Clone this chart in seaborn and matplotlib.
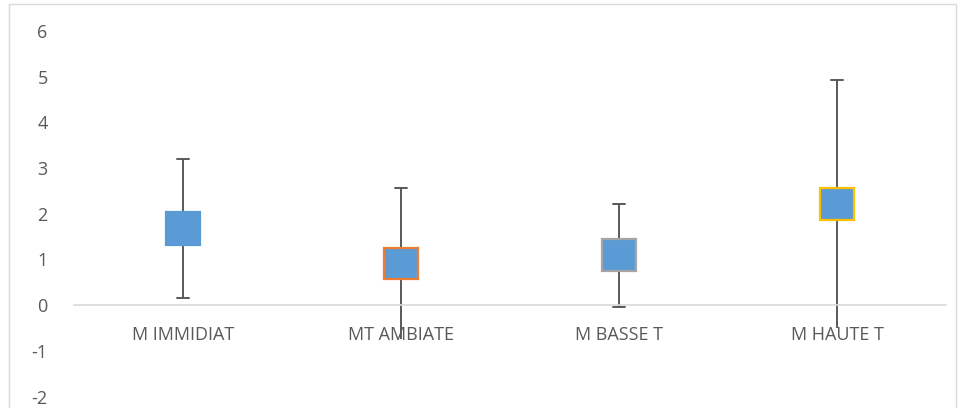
import matplotlib.pyplot as plt
import matplotlib.patches as mpatches
import seaborn as sns
import pandas as pd
import numpy as np

categories = ["M IMMIDIAT", "MT AMBIATE", "M BASSE T", "M HAUTE T"]
low = [0.15, -0.75, -0.04, -0.5]
q1 = [1.32, 0.57, 0.75, 1.86]
q3 = [2.04, 1.26, 1.45, 2.57]
high = [3.2, 2.57, 2.22, 4.93]
edge_colors = ["#5b9bd5", "#ed7d31", "#a5a5a5", "#ffc000"]
hidden_low_caps = [1, 3]

rows = {"cat": [], "value": []}
for i, c in enumerate(categories):
    for v in [low[i], q1[i], (q1[i] + q3[i]) / 2, q3[i], high[i]]:
        rows["cat"].append(c)
        rows["value"].append(v)
df = pd.DataFrame(rows)

sns.set_style("white")
plt.rcParams["font.family"] = ["Open Sans", "DejaVu Sans"]
plt.rcParams["axes.unicode_minus"] = False
text_color = "#595959"

fig = plt.figure(figsize=(9.58, 4.08), dpi=100)
ax = fig.add_axes([74 / 958, 11.5 / 408, 872 / 958, 365.5 / 408])

sns.boxplot(data=df, x="cat", y="value", order=categories, ax=ax,
            whis=(0, 100), width=0.152, color="#5b9bd5", linecolor="#595959",
            linewidth=1.4, showfliers=False, capwidths=0.055,
            medianprops={"visible": False})

for p, ec in zip(ax.patches, edge_colors):
    p.set_facecolor("#5b9bd5")
    p.set_edgecolor(ec)
    p.set_linewidth(1.6)
    p.set_zorder(3)

for ln in ax.lines:
    xd = np.asarray(ln.get_xdata(), dtype=float)
    yd = np.asarray(ln.get_ydata(), dtype=float)
    if len(yd) == 2 and yd[0] == yd[1] and xd[0] != xd[1]:
        idx = int(round(xd.mean()))
        if idx in hidden_low_caps and abs(yd[0] - low[idx]) < 1e-9:
            ln.set_visible(False)

ax.set_ylim(-2, 6)
ax.set_xlim(-0.5, 3.5)
ax.set_yticks(range(-2, 7))
ax.set_xlabel("")
ax.set_ylabel("")
for s in ["left", "right", "top"]:
    ax.spines[s].set_visible(False)
ax.spines["bottom"].set_position(("data", 0))
ax.spines["bottom"].set_color("#d9d9d9")
ax.spines["bottom"].set_linewidth(1.2)
ax.tick_params(axis="both", length=0, colors=text_color, labelsize=13)
ax.tick_params(axis="x", pad=15)
ax.tick_params(axis="y", pad=19)
ax.grid(False)

frame = mpatches.Rectangle((9 / 958, -0.05), 947 / 958, (404 / 408) + 0.05,
                           transform=fig.transFigure, fill=False,
                           edgecolor="#d9d9d9", linewidth=1)
fig.add_artist(frame)

fig.savefig("out.png", dpi=100)
